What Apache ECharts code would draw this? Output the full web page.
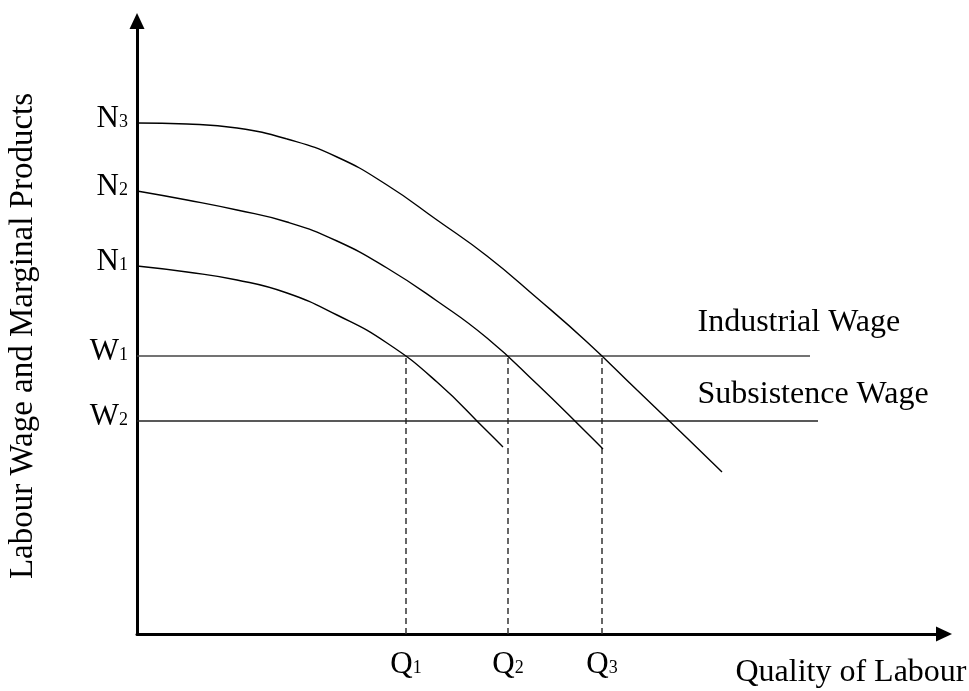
<!DOCTYPE html>
<html>
<head>
<meta charset="utf-8">
<script src="https://cdn.jsdelivr.net/npm/echarts@6/dist/echarts.min.js"></script>
<style>
html,body{margin:0;padding:0;background:#fff;}
#c{width:969px;height:691px;}
</style>
</head>
<body>
<div id="c"></div>
<script>
// Conceptual diagram values (arbitrary units)
const xMax = 807;
const yMax = 613;

const curveN1 = [[0,368],[50,362],[100,354],[150,341],[200,319],[250,291],[300,252],[350,203],[366,187]];
const curveN2 = [[0,443],[50,434],[100,424],[150,412],[200,393],[250,366],[300,333],[350,296],[400,250],[450,201],[466,185]];
const curveN3 = [[0,511],[50,510],[100,506],[150,495],[200,477],[250,449],[300,414],[350,378],[400,336],[450,292],[500,244],[550,196],[585,162]];

const wageIndustrial = [[0,278],[673,278]];
const wageSubsistence = [[0,213],[681,213]];

const qValues = [269, 371, 465];
const qLabels = ['Q{s|1}', 'Q{s|2}', 'Q{s|3}'];
const yTickValues = [511, 443, 368, 278, 213];
const yTickLabels = ['N{s|3}', 'N{s|2}', 'N{s|1}', 'W{s|1}', 'W{s|2}'];

const wageLabels = ['Industrial Wage', 'Subsistence Wage'];
const wageLabelPos = [[561, 311], [561, 239]];

const xTitle = 'Quality of Labour';
const yTitle = 'Labour Wage and Marginal Products';

const FONT = '"Liberation Serif", "Times New Roman", serif';
const FS = 31;
const FS_TXT = 32;

const rich = {
  s: { fontFamily: FONT, fontSize: 18, lineHeight: 18, color: '#000', verticalAlign: 'bottom', padding: [0,0,3,0] }
};

const dashSeries = qValues.map((q, i) => ({
  type: 'line', name: 'q' + (i+1),
  data: [[q, 0], [q, 278]],
  showSymbol: false, silent: true,
  lineStyle: { color: '#333', width: 1.5, type: [6, 4] },
  z: 1
}));

const curve = (name, data) => ({
  type: 'line', name, data, smooth: 0.5,
  showSymbol: false, silent: true,
  lineStyle: { color: '#000', width: 1.4 },
  z: 3
});

const chart = echarts.init(document.getElementById('c'), null, { renderer: 'canvas' });
chart.setOption({
  backgroundColor: '#fff',
  animation: false,
  textStyle: { fontFamily: FONT },
  grid: { left: 137, right: 25, top: 21, bottom: 57, containLabel: false },
  xAxis: {
    type: 'value', min: 0, max: xMax,
    axisLine: { show: true, onZero: true, symbol: ['none', 'triangle'], symbolSize: [15, 16], lineStyle: { color: '#000', width: 3 } },
    axisTick: { show: false },
    splitLine: { show: false },
    axisLabel: {
      show: true, customValues: qValues, margin: 15,
      formatter: (v) => { const i = qValues.indexOf(v); return i >= 0 ? qLabels[i] : ''; },
      fontFamily: FONT, fontSize: FS, color: '#000', lineHeight: FS, rich
    }
  },
  yAxis: {
    type: 'value', min: 0, max: yMax,
    axisLine: { show: true, symbol: ['none', 'triangle'], symbolSize: [15, 16], lineStyle: { color: '#000', width: 3 } },
    axisTick: { show: false },
    splitLine: { show: false },
    axisLabel: {
      show: true, customValues: yTickValues, margin: 9,
      formatter: (v) => { const i = yTickValues.indexOf(v); return i >= 0 ? yTickLabels[i] : ''; },
      fontFamily: FONT, fontSize: FS, color: '#000', lineHeight: FS, padding: [0,0,8,0], rich
    }
  },
  series: [
    curve('N1', curveN1),
    curve('N2', curveN2),
    curve('N3', curveN3),
    { type: 'line', name: 'W1', data: wageIndustrial, showSymbol: false, silent: true, lineStyle: { color: '#444', width: 1.6 }, z: 2 },
    { type: 'line', name: 'W2', data: wageSubsistence, showSymbol: false, silent: true, lineStyle: { color: '#222', width: 1.5 }, z: 2 },
    ...dashSeries,
    {
      type: 'scatter', name: 'labels', symbolSize: 1, silent: true,
      itemStyle: { opacity: 0 },
      data: wageLabels.map((t, i) => ({ value: wageLabelPos[i], name: t })),
      label: { show: true, position: [0, 0], align: 'left', verticalAlign: 'middle', formatter: (p) => p.name, fontFamily: FONT, fontSize: FS_TXT, color: '#000', opacity: 1 },
      z: 5
    }
  ],
  graphic: [
    { type: 'text', x: 851, y: 673, style: { text: xTitle, font: FS_TXT + 'px ' + FONT, fill: '#000', align: 'center', verticalAlign: 'middle' } },
    { type: 'text', x: 23, y: 336, rotation: Math.PI / 2, style: { text: yTitle, font: '33px ' + FONT, fill: '#000', align: 'center', verticalAlign: 'middle' } }
  ]
});
</script>
</body>
</html>
